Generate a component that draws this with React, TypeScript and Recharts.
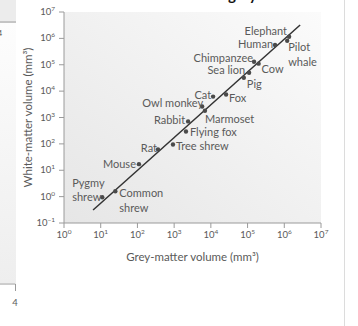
import { CartesianGrid, Label, Scatter, ScatterChart, XAxis, YAxis } from "recharts";

// grey-matter vs white-matter volume (mm^3)
const animals = [
  "Elephant", "Pilot whale", "Human", "Chimpanzee", "Cow", "Sea lion", "Pig", "Fox", "Cat",
  "Owl monkey", "Marmoset", "Rabbit", "Flying fox", "Tree shrew", "Rat", "Mouse", "Common shrew", "Pygmy shrew",
];
const greyMatter = [1.35e6, 1.2e6, 5.6e5, 1.5e5, 2.0e5, 1.1e5, 7.9e4, 2.6e4, 1.15e4, 5.8e3, 6.9e3, 2.4e3, 2.1e3, 930, 363, 110, 25, 11];
const whiteMatter = [1.15e6, 8.1e5, 5.6e5, 1.3e5, 1.1e5, 5.0e4, 3.2e4, 7.4e3, 6.2e3, 2.6e3, 1.8e3, 710, 295, 95, 62, 17, 1.6, 0.95];

// fitted power-law line, endpoints
const fitGrey = [6.2, 2.7e6];
const fitWhite = [0.31, 3.2e6];

const xTicks = [1, 10, 100, 1e3, 1e4, 1e5, 1e6, 1e7];
const yTicks = [0.1, 1, 10, 100, 1e3, 1e4, 1e5, 1e6, 1e7];

const points = animals.map((name, i) => ({ name, grey: greyMatter[i], white: whiteMatter[i] }));
const fitLine = fitGrey.map((g, i) => ({ grey: g, white: fitWhite[i] }));

// label placement around each dot: anchor, offsets, line gap
const labelPos: Record<string, { anchor: "start" | "end"; dx: number; dy: number; gap?: number }> = {
  Elephant: { anchor: "end", dx: -2, dy: -6 },
  "Pilot whale": { anchor: "start", dx: 1, dy: 6, gap: 15 },
  Human: { anchor: "end", dx: -2, dy: -1 },
  Chimpanzee: { anchor: "end", dx: -1, dy: -4 },
  Cow: { anchor: "start", dx: 3, dy: 5 },
  "Sea lion": { anchor: "end", dx: -4, dy: -3 },
  Pig: { anchor: "start", dx: 3, dy: 6 },
  Cat: { anchor: "end", dx: -2, dy: -2 },
  Fox: { anchor: "start", dx: 3, dy: 3 },
  "Owl monkey": { anchor: "end", dx: 1, dy: -4 },
  Marmoset: { anchor: "start", dx: 0, dy: 8 },
  Rabbit: { anchor: "end", dx: -3, dy: -1 },
  "Flying fox": { anchor: "start", dx: 4, dy: 1 },
  "Tree shrew": { anchor: "start", dx: 3, dy: 2 },
  Rat: { anchor: "end", dx: -1, dy: -1 },
  Mouse: { anchor: "end", dx: -3, dy: 0 },
  "Pygmy shrew": { anchor: "start", dx: -30, dy: -14, gap: 14 },
  "Common shrew": { anchor: "start", dx: 4, dy: 2, gap: 15 },
};

const FONT = "Lato, 'Open Sans', sans-serif";
const TEXT = "#5a5a5a";
const AXIS = "#9a9a9a";

const exponent = (v: number) => {
  const e = Math.round(Math.log10(v));
  return e < 0 ? `\u2212${-e}` : `${e}`;
};

const XTick = ({ x, y, payload }: any) => (
  <text x={x} y={y} dy={8} textAnchor="middle" fontSize={9.5} fill={TEXT} fontFamily={FONT}>
    10<tspan dy={-4} fontSize={6.5}>{exponent(payload.value)}</tspan>
  </text>
);

const YTick = ({ x, y, payload }: any) => (
  <text x={x - 4} y={y} dy={3} textAnchor="end" fontSize={9.5} fill={TEXT} fontFamily={FONT}>
    10<tspan dy={-4} fontSize={6.5}>{exponent(payload.value)}</tspan>
  </text>
);

const AnimalDot = (props: any) => {
  const { cx, cy, payload } = props;
  const pos = labelPos[payload.name];
  const lines = pos.gap ? payload.name.split(" ") : [payload.name];
  return (
    <g>
      <circle cx={cx} cy={cy} r={2.2} fill="#4a4a4a" />
      {lines.map((line: string, i: number) => (
        <text
          key={line}
          x={cx + pos.dx}
          y={cy + pos.dy + i * (pos.gap ?? 0) + 4}
          textAnchor={pos.anchor}
          fontSize={11}
          fill={TEXT}
          fontFamily={FONT}
        >
          {line}
        </text>
      ))}
    </g>
  );
};

const YTitle = ({ viewBox }: any) => {
  const cx = 27;
  const cy = viewBox.y + viewBox.height / 2;
  return (
    <text
      x={cx}
      y={cy}
      transform={`rotate(-90 ${cx} ${cy})`}
      textAnchor="middle"
      dominantBaseline="central"
      fontSize={11.5}
      fill={TEXT}
      fontFamily={FONT}
    >
      White-matter volume (mm³)
    </text>
  );
};

export default function App() {
  return (
    <div style={{ position: "fixed", left: 0, top: 0, width: 358, height: 326, background: "#fff", overflow: "hidden" }}>
      <svg width={358} height={326} style={{ position: "absolute", left: 0, top: 0 }}>
        <defs>
          <linearGradient id="leftStrip" x1="0" y1="0" x2="0" y2="1">
            <stop offset="0%" stopColor="#fdfdfd" />
            <stop offset="100%" stopColor="#eeeeee" />
          </linearGradient>
        </defs>
        <rect x={0} y={0} width={16} height={21} fill="#ececec" />
        <line x1={0} y1={22} x2={16} y2={22} stroke="#8a8a8a" strokeWidth={1} />
        <rect x={0} y={23} width={16} height={260} fill="url(#leftStrip)" />
        <text x={-2} y={36} fontSize={7} fill="#444" fontFamily={FONT}>4</text>
        <polyline points="0,284 15.5,284 15.5,291" fill="none" stroke={AXIS} strokeWidth={1} />
        <text x={15} y={306} textAnchor="middle" fontSize={9.5} fill={TEXT} fontFamily={FONT}>4</text>
        <text x={228} y={0} fontSize={15} fontWeight={700} fill="#111" fontFamily={FONT}>grey</text>
        <line x1={344.5} y1={0} x2={344.5} y2={326} stroke="#dcdcdc" strokeWidth={1} />
      </svg>
      <div style={{ position: "absolute", left: 0, top: 0 }}>
        <ScatterChart width={358} height={326} margin={{ top: 12, right: 37, left: 0, bottom: 63 }}>
          <defs>
            <linearGradient id="plotBg" x1="0" y1="1" x2="1" y2="0">
              <stop offset="0%" stopColor="#e6e6e6" />
              <stop offset="100%" stopColor="#fbfbfb" />
            </linearGradient>
          </defs>
          <CartesianGrid horizontal={false} vertical={false} fill="url(#plotBg)" stroke="none" />
          <XAxis
            type="number"
            dataKey="grey"
            scale="log"
            domain={[1, 1e7]}
            ticks={xTicks}
            interval={0}
            allowDataOverflow
            height={40}
            tickSize={5}
            tickMargin={2}
            tick={<XTick />}
            axisLine={{ stroke: AXIS }}
            tickLine={{ stroke: AXIS }}
          >
            <Label
              value="Grey-matter volume (mm³)"
              position="insideBottom"
              offset={2}
              style={{ fontSize: 11.5, fill: TEXT, fontFamily: FONT }}
            />
          </XAxis>
          <YAxis
            type="number"
            dataKey="white"
            scale="log"
            domain={[0.1, 1e7]}
            ticks={yTicks}
            interval={0}
            allowDataOverflow
            width={64}
            tickSize={5}
            tickMargin={0}
            tick={<YTick />}
            axisLine={{ stroke: AXIS }}
            tickLine={{ stroke: AXIS }}
          >
            <Label content={<YTitle />} />
          </YAxis>
          <Scatter
            data={fitLine}
            line={{ stroke: "#333", strokeWidth: 1.5 }}
            shape={() => <g />}
            isAnimationActive={false}
          />
          <Scatter data={points} shape={<AnimalDot />} isAnimationActive={false} />
        </ScatterChart>
      </div>
    </div>
  );
}
